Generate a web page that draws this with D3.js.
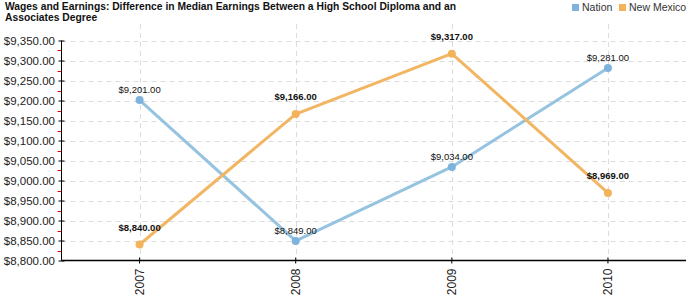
<!DOCTYPE html>
<html><head><meta charset="utf-8">
<script src="https://cdn.jsdelivr.net/npm/d3@7"></script>
<style>
body{margin:0;background:#fff;}
text{font-family:"Liberation Sans",Arial,sans-serif;}
</style></head>
<body><svg id="c" width="700" height="300"></svg>
<script>
const years = ["2007","2008","2009","2010"];
const nation = [9201, 8849, 9034, 9281];
const newMexico = [8840, 9166, 9317, 8969];
const seriesNames = ["Nation","New Mexico"];
const colors = ["#95c3e0","#f2b562"];
const legendColors = ["#7db3dc","#f3b35b"];
const yTicks = [8800,8850,8900,8950,9000,9050,9100,9150,9200,9250,9300,9350];
const titleLines = ["Wages and Earnings: Difference in Median Earnings Between a High School Diploma and an","Associates Degree"];

const svg = d3.select("#c");
const L = 61.5, R = 686, T = 40.5, B = 260.5;
const x = d3.scaleBand().domain(years).range([L, R]);
const y = d3.scaleLinear().domain([8800, 9350]).range([B, T]);
const fmt = d3.format("$,.2f");

// title
svg.append("g").selectAll("text").data(titleLines).join("text")
  .attr("x", 5).attr("y", (d,i)=>9.5 + i*11)
  .attr("font-size", 10.3).attr("font-weight", "bold").attr("fill", "#111")
  .text(d=>d);

// legend
const lg = svg.append("g");
const lx = [572, 619];
seriesNames.forEach((n,i)=>{
  lg.append("rect").attr("x", lx[i]).attr("y", 4).attr("width", 7).attr("height", 7).attr("fill", legendColors[i]);
  lg.append("text").attr("x", lx[i]+10).attr("y", 11).attr("font-size", 10.5).attr("fill", "#333").text(n);
});

// horizontal grid
svg.append("g").selectAll("line").data(yTicks.filter(t=>t>8800)).join("line")
  .attr("x1", L).attr("x2", R).attr("y1", d=>Math.round(y(d))+0.5).attr("y2", d=>Math.round(y(d))+0.5)
  .attr("stroke", "#dcdcdc").attr("stroke-dasharray", "5,4");
// vertical grid
svg.append("g").selectAll("line").data(years).join("line")
  .attr("x1", d=>Math.round(x(d)+x.bandwidth()/2)+0.5).attr("x2", d=>Math.round(x(d)+x.bandwidth()/2)+0.5)
  .attr("y1", 24).attr("y2", B)
  .attr("stroke", "#dcdcdc").attr("stroke-dasharray", "5,4");

// minor red ticks
const minor = d3.range(0, yTicks.length-1).map(i=>(yTicks[i]+yTicks[i+1])/2);
svg.append("g").selectAll("line").data(minor).join("line")
  .attr("x1", L-4).attr("x2", L).attr("y1", d=>Math.round(y(d))+0.5).attr("y2", d=>Math.round(y(d))+0.5)
  .attr("stroke", "#e00000");

// y axis
const ya = svg.append("g").attr("transform", `translate(${L},0)`)
  .call(d3.axisLeft(y).tickValues(yTicks).tickFormat(fmt).tickSize(3).tickPadding(3.5));
ya.select(".domain").attr("d", `M0,${T}V${B}`).attr("stroke", "#000");
ya.selectAll(".tick line").attr("x2", 3).attr("x1", -3).attr("stroke", "#000");
ya.selectAll(".tick text").attr("font-size", 11.5).attr("fill", "#222").attr("font-family", "Liberation Sans, Arial, sans-serif");

// x axis
const xa = svg.append("g").attr("transform", `translate(0,${B})`)
  .call(d3.axisBottom(x).tickSize(3).tickSizeOuter(0));
xa.select(".domain").attr("d", `M${L},0H${R}`).attr("stroke", "#000").attr("stroke-width", 1.3);
xa.selectAll(".tick line").attr("y1", -3).attr("y2", 3).attr("stroke", "#000");
xa.selectAll(".tick text").attr("font-size", 12).attr("fill", "#222")
  .attr("font-family", "Liberation Sans, Arial, sans-serif")
  .attr("transform", "rotate(-90)").attr("text-anchor", "end")
  .attr("x", -8).attr("y", 0).attr("dy", "0.35em");

// series
const data = [nation, newMexico];
const line = d3.line().x((d,i)=>x(years[i])+x.bandwidth()/2).y(d=>y(d));
data.forEach((vals,si)=>{
  const g = svg.append("g");
  g.append("path").datum(vals).attr("d", line).attr("fill", "none")
    .attr("stroke", colors[si]).attr("stroke-width", 3).attr("stroke-linejoin", "round");
  g.selectAll("circle").data(vals).join("circle")
    .attr("cx", (d,i)=>x(years[i])+x.bandwidth()/2).attr("cy", d=>y(d)).attr("r", 4)
    .attr("fill", legendColors[si]);
  g.selectAll("text").data(vals).join("text")
    .attr("x", (d,i)=>x(years[i])+x.bandwidth()/2)
    .attr("y", d=>y(d) - (si===0 ? 7 : 14))
    .attr("text-anchor", "middle").attr("font-size", 9.5)
    .attr("font-weight", si===0 ? "normal" : "bold").attr("fill", "#111")
    .text(d=>fmt(d));
});
</script></body></html>
